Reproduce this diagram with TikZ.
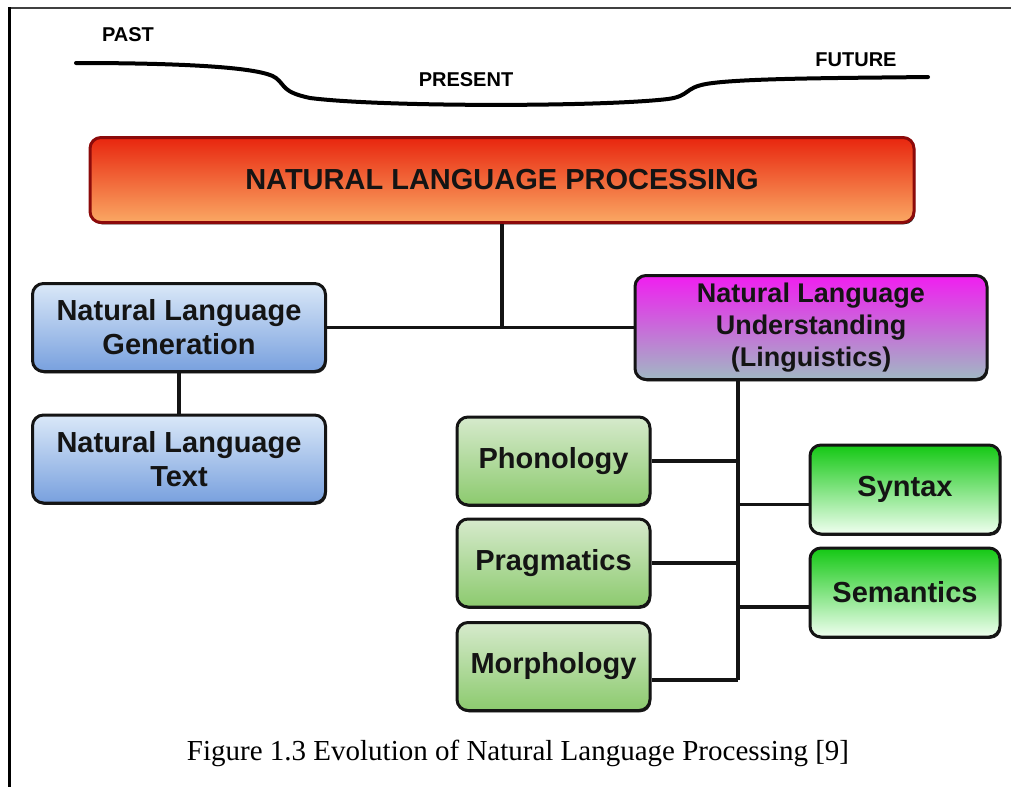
\documentclass[tikz,border=0pt]{standalone}
\usepackage{fontspec}
\setmainfont{Liberation Serif}
\newfontfamily\boxfont{Liberation Sans}
\usetikzlibrary{shadows}

\definecolor{nlpTop}{RGB}{232,38,14}
\definecolor{nlpBot}{RGB}{250,168,100}
\definecolor{nlpEdge}{RGB}{140,10,10}
\definecolor{blueTop}{RGB}{218,232,248}
\definecolor{blueBot}{RGB}{120,160,222}
\definecolor{magTop}{RGB}{240,30,240}
\definecolor{magBot}{RGB}{160,185,195}
\definecolor{paleTop}{RGB}{214,234,204}
\definecolor{paleBot}{RGB}{140,202,110}
\definecolor{vivTop}{RGB}{20,200,20}
\definecolor{vivBot}{RGB}{240,255,240}

\begin{document}
\begin{tikzpicture}[x=1pt,y=-1pt,
  box/.style={rectangle, rounded corners=11pt, draw=black!92, line width=3pt,
    align=center, inner sep=0pt, text=black!92,
    font=\boxfont\bfseries\fontsize{29}{34}\selectfont,
    drop shadow={shadow xshift=1.2pt, shadow yshift=-1.8pt, fill=black, opacity=0.85}},
  titlebox/.style={box, draw=nlpEdge, top color=nlpTop, bottom color=nlpBot},
  bluebox/.style={box, top color=blueTop, bottom color=blueBot},
  magbox/.style={box, top color=magTop, bottom color=magBot,
    font=\boxfont\bfseries\fontsize{27}{32}\selectfont},
  palebox/.style={box, top color=paleTop, bottom color=paleBot},
  vividbox/.style={box, top color=vivTop, bottom color=vivBot},
  era/.style={font=\boxfont\bfseries\fontsize{20}{24}\selectfont, inner sep=0pt},
  conn/.style={line width=3.5pt, black!92},
  frame/.style={line width=2.5pt, black}
]
\useasboundingbox (0,0) rectangle (1011,787);

% page frame: top and left rules
\draw[frame, black!75] (8,8) -- (1011,8);
\draw[frame] (9.5,7) -- (9.5,787);

% timeline
\node[era] (past) at (128,35) {PAST};
\node[era] (present) at (466,80) {PRESENT};
\node[era] (future) at (856,60) {FUTURE};
\draw[line width=4pt, line cap=round]
  (76,63) .. controls (180,63) and (262,67) .. (276,78)
  .. controls (286,86) and (282,92) .. (310,98)
  .. controls (380,107) and (600,107) .. (668,99)
  .. controls (690,96) and (684,88) .. (706,84)
  .. controls (740,78) and (850,78) .. (928,77);

% boxes
\node[titlebox, minimum width=824pt, minimum height=85pt] (nlp) at (502,180)
  {NATURAL LANGUAGE PROCESSING};
\node[bluebox, minimum width=293pt, minimum height=88pt] (nlg) at (179,327.5)
  {Natural Language\\Generation};
\node[bluebox, minimum width=293pt, minimum height=88pt] (nlt) at (179,459)
  {Natural Language\\Text};
\node[magbox, minimum width=352pt, minimum height=104pt] (nlu) at (811,327.5)
  {Natural Language\\Understanding\\(Linguistics)};
\node[palebox, minimum width=193pt, minimum height=88pt] (phon) at (553.5,461) {Phonology};
\node[palebox, minimum width=193pt, minimum height=88pt] (prag) at (553.5,563) {Pragmatics};
\node[palebox, minimum width=193pt, minimum height=88pt] (morph) at (553.5,666.5) {Morphology};
\node[vividbox, minimum width=190pt, minimum height=89pt] (syn) at (905,489.5) {Syntax};
\node[vividbox, minimum width=190pt, minimum height=89pt] (sem) at (905,592.5) {Semantics};

% connectors
\coordinate (trunk) at (738,680);
\draw[conn] (nlg.east) -- (nlu.west);
\draw[conn] (nlp.south) -- (nlp.south |- nlg.east);
\draw[conn] (nlg.south) -- (nlt.north);
\draw[conn] (nlu.south -| trunk) -- (trunk);
\draw[conn] (phon.east) -- (phon.east -| trunk);
\draw[conn] (prag.east) -- (prag.east -| trunk);
\draw[conn] (morph.east |- trunk) -- (trunk);
\draw[conn] ([yshift=-15pt]syn.west) -- ([yshift=-15pt]syn.west -| trunk);
\draw[conn] ([yshift=-14.5pt]sem.west) -- ([yshift=-14.5pt]sem.west -| trunk);

% caption
\node[anchor=base, inner sep=0pt, font=\fontsize{29}{34}\selectfont] (cap) at (518,760)
  {Figure 1.3 Evolution of Natural Language Processing [9]};
\end{tikzpicture}
\end{document}
